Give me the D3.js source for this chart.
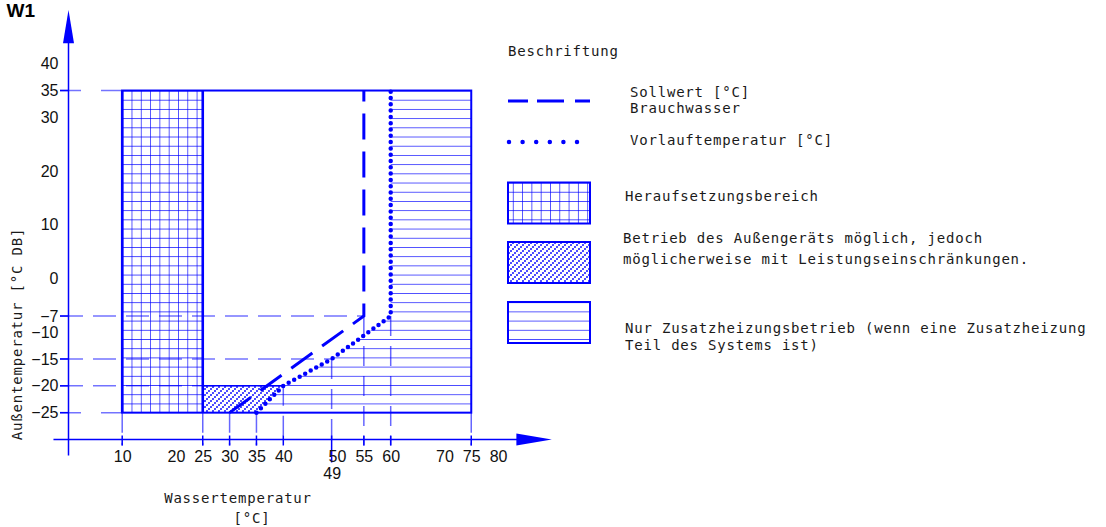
<!DOCTYPE html>
<html>
<head>
<meta charset="utf-8">
<script src="https://cdn.jsdelivr.net/npm/d3@7"></script>
<style>
body { margin: 0; background: #fff; }
.mono { font-family: "DejaVu Sans Mono", monospace; font-size: 14px; letter-spacing: 0.8px; fill: #1a1a1a; }
.num text { font-family: "Liberation Sans", Arial, sans-serif; font-size: 16px; fill: #111; }
</style>
</head>
<body>
<div id="dataviz"></div>
<script>
// tick labels
var xTicks = [10, 20, 25, 30, 35, 40, 49, 50, 55, 60, 70, 75, 80];
var yTicks = [40, 35, 30, 20, 10, 0, -7, -10, -15, -20, -25];

// curves (w = water temp, a = outside temp)
var sollwert = [{ w: 30, a: -25 }, { w: 55, a: -7 }, { w: 55, a: 35 }];
var vorlauf = [{ w: 35, a: -25 }, { w: 40, a: -20 }, { w: 49, a: -15 }, { w: 60, a: -7 }, { w: 60, a: 35 }];

// regions
var outline = { w0: 10, w1: 75, a0: -25, a1: 35 };
var boostArea = { w0: 10, w1: 25, a0: -25, a1: 35 };
var limitedArea = [[25, -25], [25, -20], [40, -20], [35, -25]];
var backupArea = [[60, 35], [75, 35], [75, -25], [35, -25], [40, -20], [49, -15], [60, -7]];

// guide lines
var hGuides = [{ a: 35, to: 10 }, { a: -7, to: 55 }, { a: -15, to: 49 }, { a: -20, to: 40 }, { a: -25, to: 10 }];
var vGuides = [{ w: 10, a: -25 }, { w: 25, a: -25 }, { w: 30, a: -25 }, { w: 35, a: -25 }, { w: 40, a: -20 },
               { w: 49, a: -15 }, { w: 55, a: -7 }, { w: 60, a: -7 }, { w: 75, a: -25 }];

var legendItems = ["Sollwert [°C]", "Brauchwasser", "Vorlauftemperatur [°C]", "Heraufsetzungsbereich",
    "Betrieb des Außengeräts möglich, jedoch", "möglicherweise mit Leistungseinschränkungen.",
    "Nur Zusatzheizungsbetrieb (wenn eine Zusatzheizung", "Teil des Systems ist)"];

var blue = "#0000ff";
var widthFull = 1106, heightFull = 527;

var svg = d3.select("#dataviz").append("svg")
    .attr("width", widthFull)
    .attr("height", heightFull)
    .style("background", "#fff");

var x = d3.scaleLinear().domain([0, 90]).range([68.5, 551.8]);
var y = d3.scaleLinear().domain([-30, 50]).range([439.5, 10]);

// patterns
var step = (y(-25) - y(35)) / 35;
var defs = svg.append("defs");
var grid = defs.append("pattern").attr("id", "grid")
    .attr("patternUnits", "userSpaceOnUse")
    .attr("x", x(10)).attr("y", y(35))
    .attr("width", 9.3).attr("height", step);
grid.append("path").attr("d", "M0,0H9.3M0,0V" + step)
    .attr("stroke", blue).attr("stroke-width", 1.3).attr("fill", "none");

var hl = defs.append("pattern").attr("id", "hlines")
    .attr("patternUnits", "userSpaceOnUse")
    .attr("x", 0).attr("y", y(35))
    .attr("width", 10).attr("height", step);
hl.append("path").attr("d", "M0,0H10")
    .attr("stroke", blue).attr("stroke-width", 1.3).attr("fill", "none");

var dots = defs.append("pattern").attr("id", "dots")
    .attr("patternUnits", "userSpaceOnUse")
    .attr("width", 6).attr("height", 6);
[[1, 5], [3, 3], [5, 1]].forEach(function(p) {
    dots.append("circle").attr("cx", p[0]).attr("cy", p[1]).attr("r", 0.95).attr("fill", blue);
});

var poly = d3.line().x(d => x(d[0])).y(d => y(d[1])).curve(d3.curveLinearClosed);

// title
svg.append("text")
    .attr("x", 35).attr("y", 17)
    .attr("text-anchor", "end")
    .style("font-family", "Liberation Sans, Arial, sans-serif")
    .style("font-weight", "bold")
    .style("font-size", "19px")
    .text("W1");

// guide lines (light dashed)
svg.selectAll(".hguide").data(hGuides).enter().append("line")
    .attr("class", "hguide")
    .attr("x1", x(0) - 8.5).attr("x2", d => x(d.to))
    .attr("y1", d => y(d.a)).attr("y2", d => y(d.a))
    .attr("stroke", blue).attr("stroke-opacity", 0.55).attr("stroke-width", 1.5)
    .attr("stroke-dasharray", d => (d.to === 10 ? "21,20" : "23,10"));

svg.selectAll(".vguide").data(vGuides).enter().append("line")
    .attr("class", "vguide")
    .attr("x1", d => x(d.w)).attr("x2", d => x(d.w))
    .attr("y1", d => y(d.a)).attr("y2", y(-30) + 6)
    .attr("stroke", blue).attr("stroke-opacity", 0.6).attr("stroke-width", 1.5)
    .attr("stroke-dasharray", "20,10");

// regions
svg.append("path").attr("d", poly(backupArea)).attr("fill", "url(#hlines)");
svg.append("rect")
    .attr("x", x(boostArea.w0)).attr("y", y(boostArea.a1))
    .attr("width", x(boostArea.w1) - x(boostArea.w0))
    .attr("height", y(boostArea.a0) - y(boostArea.a1))
    .attr("fill", "url(#grid)");
svg.append("path").attr("d", poly(limitedArea)).attr("fill", "url(#dots)");
svg.append("line")
    .attr("x1", x(25)).attr("x2", x(40)).attr("y1", y(-20)).attr("y2", y(-20))
    .attr("stroke", blue).attr("stroke-width", 1.6);

// outlines
svg.append("rect")
    .attr("x", x(outline.w0)).attr("y", y(outline.a1))
    .attr("width", x(outline.w1) - x(outline.w0))
    .attr("height", y(outline.a0) - y(outline.a1))
    .attr("fill", "none").attr("stroke", blue).attr("stroke-width", 2);
[boostArea.w0, boostArea.w1].forEach(function(w) {
    svg.append("line")
        .attr("x1", x(w)).attr("x2", x(w)).attr("y1", y(35)).attr("y2", y(-25))
        .attr("stroke", blue).attr("stroke-width", 2.6);
});

// curves
var line = d3.line().x(d => x(d.w)).y(d => y(d.a));
svg.append("path").datum(sollwert)
    .attr("d", line).attr("fill", "none")
    .attr("stroke", blue).attr("stroke-width", 3)
    .attr("stroke-dasharray", "26,12");
svg.append("path").datum(vorlauf)
    .attr("d", line).attr("fill", "none")
    .attr("stroke", blue).attr("stroke-width", 4.5)
    .attr("stroke-linecap", "round")
    .attr("stroke-dasharray", "0,6.3");

// axes lines and arrows
svg.append("line")
    .attr("x1", x(0)).attr("x2", x(0)).attr("y1", y(-33)).attr("y2", y(44))
    .attr("stroke", blue).attr("stroke-width", 1.5);
svg.append("path")
    .attr("d", "M" + x(0) + "," + y(50) + "L" + (x(0) - 5.5) + "," + y(43.8) + "L" + (x(0) + 5.5) + "," + y(43.8) + "Z")
    .attr("fill", blue);
svg.append("line")
    .attr("x1", x(-2.8)).attr("x2", x(84)).attr("y1", y(-30)).attr("y2", y(-30))
    .attr("stroke", blue).attr("stroke-width", 1.5);
svg.append("path")
    .attr("d", "M" + x(90) + "," + y(-30) + "L" + x(83.4) + "," + (y(-30) - 6) + "L" + x(83.4) + "," + (y(-30) + 6) + "Z")
    .attr("fill", blue);

// ticks
svg.selectAll(".ytick").data(hGuides).enter().append("line")
    .attr("x1", x(0) - 8.5).attr("x2", x(0))
    .attr("y1", d => y(d.a)).attr("y2", d => y(d.a))
    .attr("stroke", blue).attr("stroke-width", 1.5);
svg.selectAll(".xtick").data(vGuides).enter().append("line")
    .attr("x1", d => x(d.w)).attr("x2", d => x(d.w))
    .attr("y1", y(-30) - 4).attr("y2", d => y(-30) + (d.w === 49 ? 23 : 6))
    .attr("stroke", blue).attr("stroke-width", 1.5);

// tick labels through d3 axes
var xAxis = svg.append("g").attr("class", "num")
    .attr("transform", "translate(0," + y(-30) + ")")
    .call(d3.axisBottom(x).tickValues(xTicks).tickSize(0).tickPadding(11));
xAxis.select(".domain").remove();
xAxis.selectAll("text").attr("font-size", null).attr("font-family", null)
    .attr("y", d => (d === 49 ? 28 : 11));

var yAxis = svg.append("g").attr("class", "num")
    .attr("transform", "translate(" + x(0) + ",0)")
    .call(d3.axisLeft(y).tickValues(yTicks).tickSize(0).tickPadding(10));
yAxis.select(".domain").remove();

// axis titles
svg.append("text").attr("class", "mono")
    .attr("transform", "translate(22," + 334 + ") rotate(-90)")
    .attr("text-anchor", "middle")
    .text("Außentemperatur [°C DB]");
svg.append("text").attr("class", "mono")
    .attr("x", 238).attr("y", 503).attr("text-anchor", "middle")
    .text("Wassertemperatur");
svg.append("text").attr("class", "mono")
    .attr("x", 252).attr("y", 523).attr("text-anchor", "middle")
    .text("[°C]");

// legend
var lg = svg.append("g");
lg.append("text").attr("class", "mono").attr("x", 508).attr("y", 56).text("Beschriftung");

lg.append("line").attr("x1", 508).attr("x2", 590).attr("y1", 101).attr("y2", 101)
    .attr("stroke", blue).attr("stroke-width", 3).attr("stroke-dasharray", "20,9,27,11");
lg.append("text").attr("class", "mono").attr("x", 630).attr("y", 97).text(legendItems[0]);
lg.append("text").attr("class", "mono").attr("x", 630).attr("y", 113).text(legendItems[1]);

lg.append("line").attr("x1", 509).attr("x2", 578).attr("y1", 142).attr("y2", 142)
    .attr("stroke", blue).attr("stroke-width", 4.5).attr("stroke-linecap", "round")
    .attr("stroke-dasharray", "0,13.6");
lg.append("text").attr("class", "mono").attr("x", 630).attr("y", 145).text(legendItems[2]);

var boxes = [
    { y0: 182.5, fill: "url(#grid)" },
    { y0: 242, fill: "url(#dots)" },
    { y0: 302, fill: "url(#hlines)" }
];
lg.selectAll(".lbox").data(boxes).enter().append("rect")
    .attr("x", 508).attr("y", d => d.y0).attr("width", 82).attr("height", 41)
    .attr("fill", d => d.fill).attr("stroke", blue).attr("stroke-width", 2);

lg.append("text").attr("class", "mono").attr("x", 625).attr("y", 201).text(legendItems[3]);
lg.append("text").attr("class", "mono").attr("x", 623).attr("y", 243).text(legendItems[4]);
lg.append("text").attr("class", "mono").attr("x", 623).attr("y", 264).text(legendItems[5]);
lg.append("text").attr("class", "mono").attr("x", 625).attr("y", 333).text(legendItems[6]);
lg.append("text").attr("class", "mono").attr("x", 625).attr("y", 350).text(legendItems[7]);
</script>
</body>
</html>
